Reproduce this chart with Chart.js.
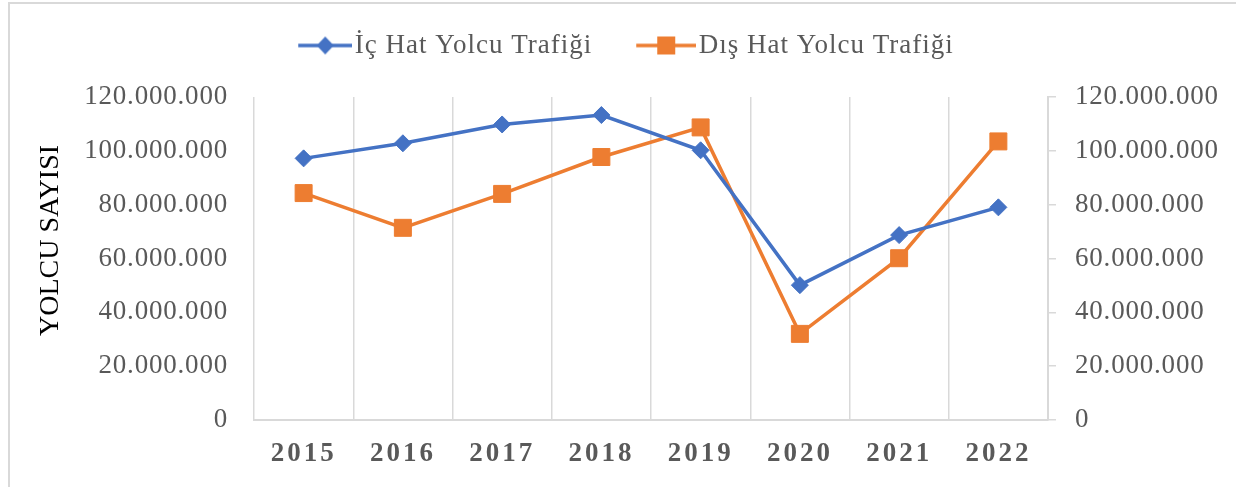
<!DOCTYPE html>
<html>
<head>
<meta charset="utf-8">
<script src="https://cdn.jsdelivr.net/npm/chart.js@4.4.1/dist/chart.umd.min.js"></script>
<style>
  html, body { margin: 0; padding: 0; background: #ffffff; }
  #wrap { position: relative; width: 1236px; height: 487px; }
</style>
</head>
<body>
<div id="wrap"><canvas id="c" width="1236" height="487"></canvas></div>
<script>
const years = ['2015', '2016', '2017', '2018', '2019', '2020', '2021', '2022'];
const icHat = [97200000, 102800000, 109800000, 113300000, 100200000, 50100000, 68700000, 79000000];
const disHat = [84300000, 71400000, 84000000, 97700000, 108700000, 32000000, 60100000, 103500000];
const seriesNames = ['İç Hat Yolcu Trafiği', 'Dış Hat Yolcu Trafiği'];
const yTicks = [0, 20000000, 40000000, 60000000, 80000000, 100000000, 120000000];
const yTitle = 'YOLCU SAYISI';

const BLUE = '#4472c4';
const ORANGE = '#ed7d31';
const GRID = '#d9d9d9';
const TXT = '#595959';
const SERIF = "'Liberation Serif', 'Times New Roman', serif";

function fmt(v) {
  return Math.round(v).toString().replace(/\B(?=(\d{3})+(?!\d))/g, '.');
}

// Legend icon: transparent left part, visible line+marker on the right
function legendIcon(color, shape, vis) {
  const W = 87, H = 22, x0 = W - vis;
  const c = document.createElement('canvas');
  c.width = W; c.height = H;
  const g = c.getContext('2d');
  g.strokeStyle = color; g.lineWidth = 3.5;
  g.beginPath(); g.moveTo(x0, 11); g.lineTo(W, 11); g.stroke();
  g.fillStyle = color;
  const cx = x0 + vis / 2;
  if (shape === 'diamond') {
    g.beginPath(); g.moveTo(cx, 2); g.lineTo(cx + 8.5, 11); g.lineTo(cx, 20); g.lineTo(cx - 8.5, 11); g.closePath(); g.fill();
  } else {
    g.fillRect(cx - 9, 2, 18, 18);
  }
  return c;
}
const icons = [legendIcon(BLUE, 'diamond', 54), legendIcon(ORANGE, 'square', 60)];

const borderPlugin = {
  id: 'outerBorder',
  beforeDraw(chart) {
    const ctx = chart.ctx;
    ctx.save();
    ctx.strokeStyle = GRID;
    ctx.lineWidth = 2;
    ctx.beginPath();
    ctx.moveTo(9, 487); ctx.lineTo(9, 3); ctx.lineTo(1236, 3);
    ctx.stroke();
    ctx.restore();
  }
};

const LEGEND_SPACING = '1px';
const legendGapPlugin = {
  id: 'legendGap',
  afterInit(chart) {
    const lg = chart.legend;
    if (!lg || lg._gapWrapped) return;
    const f = lg.fit.bind(lg);
    lg.fit = function () {
      const ctx = this.ctx;
      ctx.save(); ctx.letterSpacing = LEGEND_SPACING;
      f();
      ctx.restore();
      this.height += 28;
    };
    const d = lg.draw.bind(lg);
    lg.draw = function () {
      const ctx = this.ctx;
      ctx.save(); ctx.letterSpacing = LEGEND_SPACING;
      ctx.translate(-14, 0);
      d();
      ctx.restore();
    };
    lg._gapWrapped = true;
  }
};

const chart = new Chart(document.getElementById('c'), {
  type: 'line',
  data: {
    labels: years,
    datasets: [
      {
        label: seriesNames[0], data: icHat, yAxisID: 'y',
        borderColor: BLUE, backgroundColor: BLUE, borderWidth: 3.5,
        pointStyle: 'rectRot', pointRadius: 8.5, pointHoverRadius: 8.5,
        pointBackgroundColor: BLUE, pointBorderColor: BLUE, pointBorderWidth: 1,
        tension: 0
      },
      {
        label: seriesNames[1], data: disHat, yAxisID: 'y1',
        borderColor: ORANGE, backgroundColor: ORANGE, borderWidth: 3.5,
        pointStyle: 'rect', pointRadius: 12, pointHoverRadius: 12,
        pointBackgroundColor: ORANGE, pointBorderColor: ORANGE, pointBorderWidth: 1,
        tension: 0
      }
    ]
  },
  options: {
    responsive: false,
    animation: false,
    layout: { padding: { left: 32, right: 10, top: 4, bottom: 0 } },
    plugins: {
      tooltip: { enabled: false },
      legend: {
        position: 'top',
        labels: {
          usePointStyle: true,
          pointStyleWidth: 65,
          padding: 28,
          color: TXT,
          font: { family: SERIF, size: 27 },
          generateLabels(chart) {
            return chart.data.datasets.map((ds, i) => ({
              text: ds.label,
              pointStyle: icons[i],
              fillStyle: ds.borderColor,
              strokeStyle: ds.borderColor,
              lineWidth: 0,
              fontColor: TXT,
              hidden: false,
              datasetIndex: i
            }));
          }
        }
      }
    },
    scales: {
      x: {
        offset: true,
        grid: { display: true, color: GRID, lineWidth: 1.5, offset: true, drawTicks: false },
        border: { display: true, color: GRID, width: 2 },
        ticks: { color: TXT, font: { family: SERIF, size: 27, weight: 'bold' }, padding: 18 },
        afterFit(s) { s.height = 67; }
      },
      y: {
        position: 'left',
        min: 0, max: 120000000,
        afterBuildTicks(s) { s.ticks = yTicks.map(v => ({ value: v })); },
        grid: { display: false, drawTicks: false },
        border: { display: false },
        ticks: { color: TXT, font: { family: SERIF, size: 27 }, padding: 26, callback: v => fmt(v) },
        title: { display: true, text: yTitle, color: '#000000', font: { family: SERIF, size: 28 }, padding: { top: 2, bottom: 4 } },
        afterFit(s) { s.width = 222; }
      },
      y1: {
        position: 'right',
        min: 0, max: 120000000,
        afterBuildTicks(s) { s.ticks = yTicks.map(v => ({ value: v })); },
        grid: { display: true, drawOnChartArea: false, drawTicks: true, tickLength: 8, color: GRID, lineWidth: 1.5 },
        border: { display: true, color: GRID, width: 2 },
        ticks: { color: TXT, font: { family: SERIF, size: 27 }, padding: 19, callback: v => fmt(v) },
        afterFit(s) { s.width = 178; }
      }
    }
  },
  plugins: [borderPlugin, legendGapPlugin]
});

function spaceLabels(scale, px) {
  const orig = scale.drawLabels.bind(scale);
  scale.drawLabels = function (area) {
    const ctx = this.ctx;
    ctx.save();
    ctx.letterSpacing = px + 'px';
    orig(area);
    ctx.restore();
  };
}
spaceLabels(chart.scales.x, 3);
spaceLabels(chart.scales.y, 0.8);
spaceLabels(chart.scales.y1, 0.8);

// y title sits a little above the vertical centre in the reference
(function () {
  const s = chart.scales.y;
  const orig = s.drawTitle.bind(s);
  s.drawTitle = function () {
    const ctx = this.ctx;
    ctx.save();
    ctx.translate(0, -18);
    orig();
    ctx.restore();
  };
})();
chart.update();
</script>
</body>
</html>
